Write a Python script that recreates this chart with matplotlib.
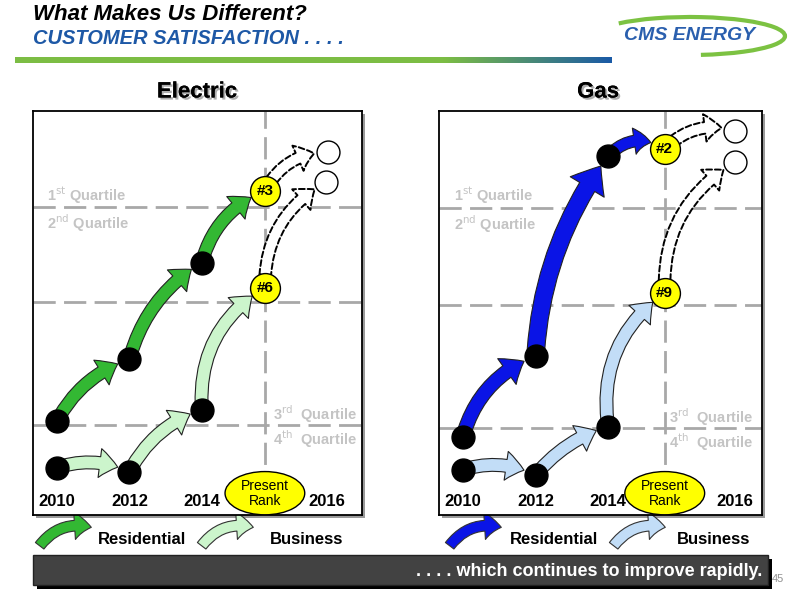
import matplotlib
matplotlib.use('Agg')
import matplotlib.pyplot as plt
from matplotlib.patches import FancyArrowPatch, Ellipse, Rectangle, Arc
from matplotlib.colors import LinearSegmentedColormap
import matplotlib.patheffects as pe
import numpy as np

NARROW = ['Liberation Sans Narrow', 'Liberation Sans', 'DejaVu Sans']
plt.rcParams['font.family'] = NARROW

YEARS = ['2010', '2012', '2014', '2016']
PANEL_TITLES = ['Electric', 'Gas']

# x: 2010=0, 2012=1, 2014=2, then present rank, then 2016 projection
ELEC_YEAR_X = [0, 1, 2, 3.72]
ELEC_PRESENT_X = 2.87
ELEC_RES_X = [0, 1, 2, 2.87]
ELEC_RES_Y = [23.2, 38.5, 62.5, 80.2]
ELEC_BUS_X = [0, 1, 2, 2.87]
ELEC_BUS_Y = [11.7, 10.7, 26.1, 56.3]
ELEC_TARGET_X = [3.74, 3.72]
ELEC_TARGET_Y = [89.8, 82.4]
ELEC_RANKS = ['#3', '#6']
ELEC_QUARTILES = [76.2, 52.6, 22.3]

GAS_YEAR_X = [0, 1, 2, 3.75]
GAS_PRESENT_X = 2.78
GAS_RES_X = [0, 1, 2, 2.78]
GAS_RES_Y = [19.4, 39.3, 88.9, 90.6]
GAS_BUS_X = [0, 1, 2, 2.78]
GAS_BUS_Y = [11.2, 9.9, 21.9, 55.0]
GAS_TARGET_X = [3.75, 3.75]
GAS_TARGET_Y = [95.1, 87.3]
GAS_RANKS = ['#2', '#9']
GAS_QUARTILES = [76.1, 52.1, 21.5]

QUARTILE_LABELS = ['1$^{\\mathrm{st}}$ Quartile', '2$^{\\mathrm{nd}}$ Quartile',
                   '3$^{\\mathrm{rd}}$  Quartile', '4$^{\\mathrm{th}}$  Quartile']

# arrow styling per segment: curvature and size
ELEC_RES_RAD = [-0.2, -0.2, -0.25]
ELEC_BUS_RAD = [-0.2, -0.2, -0.3]
GAS_RES_RAD = [-0.25, -0.15, -0.4]
GAS_BUS_RAD = [-0.2, -0.15, -0.3]
ELEC_RES_SIZE = [22, 22, 22]
ELEC_BUS_SIZE = [22, 22, 22]
GAS_RES_SIZE = [24, 30, 20]
GAS_BUS_SIZE = [22, 22, 22]

ELEC_COLORS = ('#33b833', '#ccf5cc')
GAS_COLORS = ('#0a14e6', '#c2ddf7')
GRID = '#a8a8a8'
QTXT = '#c4c4c4'

fig = plt.figure(figsize=(8, 6), dpi=100)

# overlay in pixel coordinates for slide decorations
bg = fig.add_axes([0, 0, 1, 1], zorder=0)
bg.set_xlim(0, 800)
bg.set_ylim(600, 0)
bg.axis('off')

bg.text(33, 15, 'What Makes Us Different?', fontsize=16, fontweight='bold',
        fontstyle='italic', va='center', ha='left', color='black')
bg.text(33, 39, 'CUSTOMER SATISFACTION . . . .', fontsize=14.5, fontweight='bold',
        fontstyle='italic', va='center', ha='left', color='#1d58a6')

cmap = LinearSegmentedColormap.from_list('bar', [(0, '#7cbd44'), (0.72, '#7cbd44'),
                                                 (1, '#1a5aa6')])
bg.imshow(np.linspace(0, 1, 256)[None, :], cmap=cmap, aspect='auto',
          extent=[15, 612, 63, 57], zorder=1)

bg.add_patch(Arc((690, 36), 190, 38, theta1=190, theta2=60, color='#7cc242', lw=3))
bg.text(690, 36, 'CMS ENERGY', fontsize=14, fontweight='bold', fontstyle='italic',
        color='#2a5fae', ha='center', va='center')

# panel shadows
for x0, w in [(33, 329), (439, 323)]:
    bg.add_patch(Rectangle((x0 + 3, 114), w, 404, facecolor='#9a9a9a', edgecolor='none'))

# bottom banner
bg.add_patch(Rectangle((37, 559), 735, 30, facecolor='black', edgecolor='none'))
bg.add_patch(Rectangle((33, 555), 735, 30, facecolor='#424242', edgecolor='#222222', lw=1))
bg.text(762, 571, '. . . . which continues to improve rapidly.', fontsize=13,
        fontweight='bold', color='white', ha='right', va='center')
bg.text(778, 579, '45', fontsize=8, color='#909090', ha='center', va='center')

shadow = [pe.withSimplePatchShadow(offset=(1.5, -1.5), shadow_rgbFace='#999999', alpha=0.8),
          pe.Normal()]
bg.text(197, 92, PANEL_TITLES[0], fontsize=16, fontweight='bold', ha='center',
        va='center', path_effects=shadow)
bg.text(598, 92, PANEL_TITLES[1], fontsize=16, fontweight='bold', ha='center',
        va='center', path_effects=shadow)


def legend_arrow(x0, y0, x1, y1, color):
    bg.add_patch(FancyArrowPatch((x0, y0), (x1, y1), connectionstyle='arc3,rad=-0.35',
                                 arrowstyle='simple,head_length=0.55,head_width=0.9,tail_width=0.35',
                                 mutation_scale=22, facecolor=color, edgecolor='#333333',
                                 lw=0.8, zorder=3))


for x_icon, x_lab, color, lab in [(38, 98, ELEC_COLORS[0], 'Residential'),
                                  (200, 270, ELEC_COLORS[1], 'Business'),
                                  (448, 510, GAS_COLORS[0], 'Residential'),
                                  (612, 677, GAS_COLORS[1], 'Business')]:
    legend_arrow(x_icon, 548, x_icon + 56, 528, color)
    bg.text(x_lab, 539, lab, fontsize=12, fontweight='bold', ha='left', va='center')


def draw_panel(ax, year_x, present_x, res_x, res_y, bus_x, bus_y, tx, ty, ranks,
               quartiles, res_rad, bus_rad, res_size, bus_size, colors, xlim,
               q_left, q_right):
    ax.set_xlim(*xlim)
    ax.set_ylim(0, 100)
    ax.set_xticks([])
    ax.set_yticks([])
    for s in ax.spines.values():
        s.set_linewidth(1.3)
        s.set_color('black')

    for q in quartiles:
        ax.axhline(q, color=GRID, lw=2, ls=(0, (8, 3)), zorder=1)
    ax.plot([present_x, present_x], [5, 100], color=GRID, lw=2, ls=(0, (8, 3)), zorder=1)

    ax.text(q_left, quartiles[0] + 3, QUARTILE_LABELS[0], color=QTXT, fontsize=10.5,
            fontweight='bold', ha='left', va='center')
    ax.text(q_left, quartiles[0] - 4, QUARTILE_LABELS[1], color=QTXT, fontsize=10.5,
            fontweight='bold', ha='left', va='center')
    ax.text(q_right, quartiles[2] + 2.6, QUARTILE_LABELS[2], color=QTXT, fontsize=10.5,
            fontweight='bold', ha='right', va='center')
    ax.text(q_right, quartiles[2] - 3.5, QUARTILE_LABELS[3], color=QTXT, fontsize=10.5,
            fontweight='bold', ha='right', va='center')

    for xs, ys, rads, sizes, col in [(res_x, res_y, res_rad, res_size, colors[0]),
                                     (bus_x, bus_y, bus_rad, bus_size, colors[1])]:
        for i in range(len(xs) - 1):
            last = i == len(xs) - 2
            ax.add_patch(FancyArrowPatch(
                (xs[i], ys[i]), (xs[i + 1], ys[i + 1]),
                connectionstyle=f'arc3,rad={rads[i]}',
                arrowstyle='simple,head_length=0.6,head_width=0.95,tail_width=0.42',
                mutation_scale=sizes[i], shrinkA=4, shrinkB=11 if last else 9,
                facecolor=col, edgecolor='#222222', lw=0.8, zorder=3))
        ax.plot(xs[:-1], ys[:-1], 'o', color='black', ms=16.5, zorder=5)

    # projections to 2016
    starts = [(res_x[-1], res_y[-1]), (bus_x[-1], bus_y[-1])]
    for (sx, sy), ex, ey in zip(starts, tx, ty):
        ax.add_patch(FancyArrowPatch(
            (sx, sy), (ex, ey), connectionstyle='arc3,rad=-0.3',
            arrowstyle='simple,head_length=0.55,head_width=0.9,tail_width=0.38',
            mutation_scale=22, shrinkA=9, shrinkB=10, facecolor='white',
            edgecolor='black', lw=1.4, ls=(0, (3, 1.5)), zorder=2))
    ax.plot(tx, ty, 'o', mfc='white', mec='black', mew=1, ms=16.5, zorder=5)

    ax.plot([res_x[-1], bus_x[-1]], [res_y[-1], bus_y[-1]], 'o', mfc='#ffff00',
            mec='black', mew=1, ms=21.5, zorder=6)
    for x, y, r in zip([res_x[-1], bus_x[-1]], [res_y[-1], bus_y[-1]], ranks):
        ax.text(x, y, r, fontsize=11, fontweight='bold', ha='center', va='center', zorder=7)

    ax.add_patch(Ellipse((present_x, 5.4), 1.1, 10.7, facecolor='#ffff00',
                         edgecolor='black', lw=1, zorder=6))
    ax.text(present_x, 5.4, 'Present\nRank', fontsize=10, ha='center', va='center',
            linespacing=1.1, zorder=7)

    for x, lab in zip(year_x, YEARS):
        ax.text(x, 3.3, lab, fontsize=12, fontweight='bold', ha='center', va='center',
                zorder=7)


ax_e = fig.add_axes([33 / 800, 85 / 600, 329 / 800, 404 / 600], zorder=1)
draw_panel(ax_e, ELEC_YEAR_X, ELEC_PRESENT_X, ELEC_RES_X, ELEC_RES_Y, ELEC_BUS_X,
           ELEC_BUS_Y, ELEC_TARGET_X, ELEC_TARGET_Y, ELEC_RANKS, ELEC_QUARTILES,
           ELEC_RES_RAD, ELEC_BUS_RAD, ELEC_RES_SIZE, ELEC_BUS_SIZE, ELEC_COLORS,
           (-0.33, 4.21), -0.14, 4.15)

ax_g = fig.add_axes([439 / 800, 85 / 600, 323 / 800, 404 / 600], zorder=1)
draw_panel(ax_g, GAS_YEAR_X, GAS_PRESENT_X, GAS_RES_X, GAS_RES_Y, GAS_BUS_X,
           GAS_BUS_Y, GAS_TARGET_X, GAS_TARGET_Y, GAS_RANKS, GAS_QUARTILES,
           GAS_RES_RAD, GAS_BUS_RAD, GAS_RES_SIZE, GAS_BUS_SIZE, GAS_COLORS,
           (-0.33, 4.12), -0.12, 4.0)

fig.savefig('out.png', dpi=100)
